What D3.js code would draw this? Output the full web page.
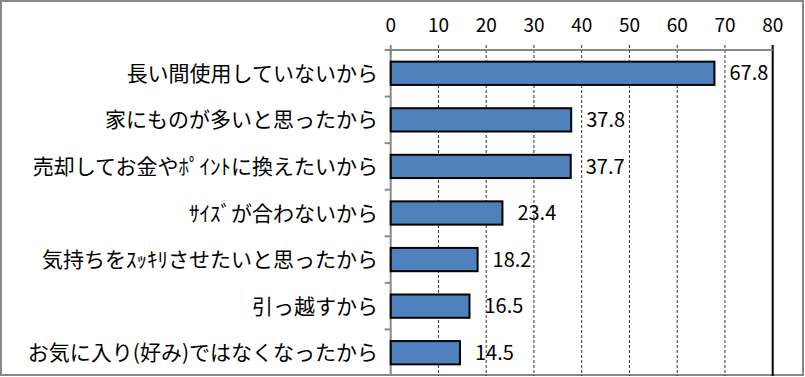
<!DOCTYPE html>
<html>
<head>
<meta charset="utf-8">
<script src="https://cdn.jsdelivr.net/npm/d3@7"></script>
<style>
  body { margin: 0; background: #fff; }
  text { font-family: "Noto Sans CJK JP", sans-serif; fill: #000; }
</style>
</head>
<body>
<div id="chart"></div>
<script>
// data
const categories = [
    "長い間使用していないから",
    "家にものが多いと思ったから",
    "売却してお金やﾎﾟｲﾝﾄに換えたいから",
    "ｻｲｽﾞが合わないから",
    "気持ちをｽｯｷﾘさせたいと思ったから",
    "引っ越すから",
    "お気に入り(好み)ではなくなったから"
];
const values = [67.8, 37.8, 37.7, 23.4, 18.2, 16.5, 14.5];
const xTicks = [0, 10, 20, 30, 40, 50, 60, 70, 80];

const width = 805, height = 377;
const plot = { left: 390.7, right: 772.7, top: 50, bottom: 376 };

const svg = d3.select("#chart").append("svg")
    .attr("width", width).attr("height", height);

// outer frame
svg.append("rect")
    .attr("x", 1).attr("y", 1)
    .attr("width", width - 3).attr("height", height - 3)
    .attr("fill", "#fff").attr("stroke", "#888").attr("stroke-width", 2);

const x = d3.scaleLinear().domain([0, 80]).range([plot.left, plot.right]);
const y = d3.scaleBand().domain(categories).range([plot.top, plot.bottom])
    .paddingInner(0.5).paddingOuter(0.25);

// gridlines
svg.selectAll(".grid").data(xTicks.filter(t => t > 0 && t < 80)).enter()
    .append("line").attr("class", "grid")
    .attr("x1", d => x(d)).attr("x2", d => x(d))
    .attr("y1", plot.top - 5).attr("y2", plot.bottom)
    .attr("stroke", "#333").attr("stroke-width", 1)
    .attr("stroke-dasharray", "3,2");

// right end line at 80
svg.append("line")
    .attr("x1", x(80)).attr("x2", x(80))
    .attr("y1", plot.top - 5).attr("y2", plot.bottom)
    .attr("stroke", "#000").attr("stroke-width", 2);

// top axis
svg.append("line")
    .attr("x1", plot.left).attr("x2", plot.right)
    .attr("y1", plot.top).attr("y2", plot.top)
    .attr("stroke", "#888").attr("stroke-width", 2);
svg.append("line")
    .attr("x1", x(0)).attr("x2", x(0))
    .attr("y1", plot.top - 5).attr("y2", plot.top + 5)
    .attr("stroke", "#888").attr("stroke-width", 2);

svg.selectAll(".xlab").data(xTicks).enter()
    .append("text").attr("class", "xlab")
    .attr("x", d => x(d)).attr("y", 32)
    .attr("text-anchor", "middle")
    .style("font-size", "19px")
    .text(d => d);

// left axis
svg.append("line")
    .attr("x1", plot.left).attr("x2", plot.left)
    .attr("y1", plot.top).attr("y2", plot.bottom)
    .attr("stroke", "#888").attr("stroke-width", 2);

const boundaries = d3.range(categories.length).map(i => plot.top + i * y.step());
svg.selectAll(".ytick").data(boundaries).enter()
    .append("line").attr("class", "ytick")
    .attr("x1", plot.left - 6).attr("x2", plot.left)
    .attr("y1", d => d).attr("y2", d => d)
    .attr("stroke", "#888").attr("stroke-width", 2);

// bars
svg.selectAll(".bar").data(values).enter()
    .append("rect").attr("class", "bar")
    .attr("x", x(0))
    .attr("y", (d, i) => y(categories[i]))
    .attr("width", d => x(d) - x(0))
    .attr("height", y.bandwidth())
    .attr("fill", "#4F81BD")
    .attr("stroke", "#000").attr("stroke-width", 2);

// value labels
svg.selectAll(".val").data(values).enter()
    .append("text").attr("class", "val")
    .attr("x", d => x(d) + 15)
    .attr("y", (d, i) => y(categories[i]) + y.bandwidth() / 2)
    .attr("dy", "0.36em")
    .style("font-size", "20px")
    .text(d => d.toFixed(1));

// category labels
svg.selectAll(".cat").data(categories).enter()
    .append("text").attr("class", "cat")
    .attr("x", 378)
    .attr("y", d => y(d) + y.bandwidth() / 2)
    .attr("dy", "0.36em")
    .attr("text-anchor", "end")
    .style("font-size", "21px")
    .text(d => d);
</script>
</body>
</html>
